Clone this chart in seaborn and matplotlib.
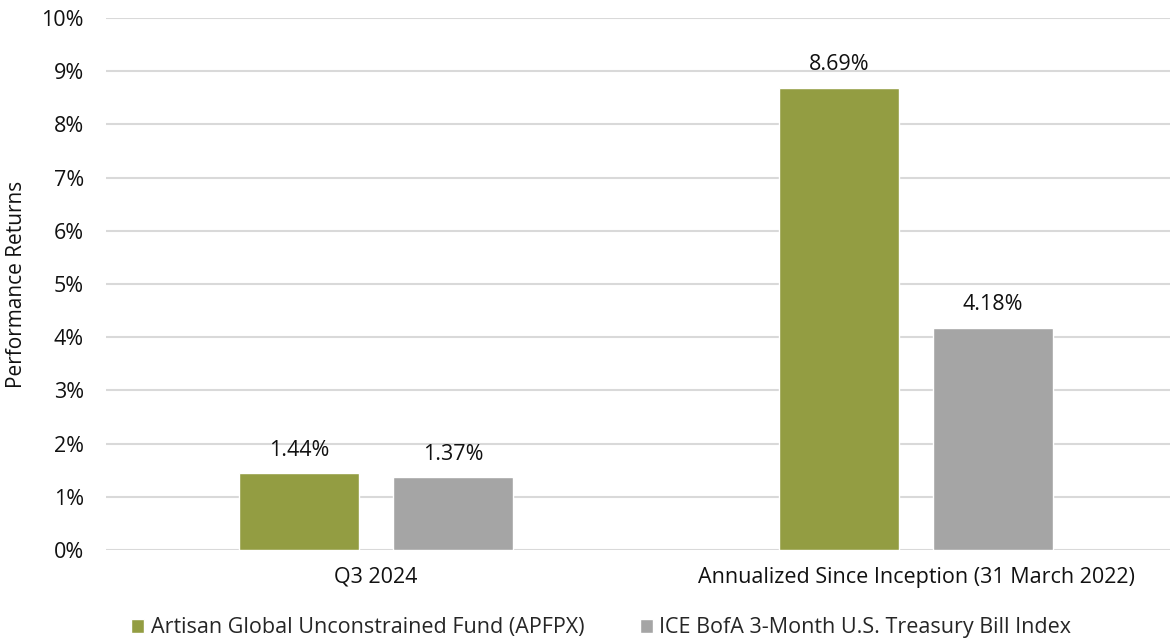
import matplotlib
matplotlib.use("Agg")
import matplotlib.pyplot as plt
import seaborn as sns
import pandas as pd
from matplotlib.patches import Patch

categories = ["Q3 2024", "Annualized Since Inception (31 March 2022)"]
series_names = ["Artisan Global Unconstrained Fund (APFPX)", "ICE BofA 3-Month U.S. Treasury Bill Index"]
fund_values = [1.44, 8.69]
index_values = [1.37, 4.18]
colors = ["#939D42", "#A5A5A5"]
yticks = [0, 1, 2, 3, 4, 5, 6, 7, 8, 9, 10]

rows = []
for c, f, i in zip(categories, fund_values, index_values):
    rows.append({"cat": c, "series": series_names[0], "val": f})
    rows.append({"cat": c, "series": series_names[1], "val": i})
df = pd.DataFrame(rows)

sns.set_style("white")
plt.rcParams['font.family'] = ['Open Sans', 'DejaVu Sans']
FS = 15.5

fig = plt.figure(figsize=(11.7, 6.44), dpi=100)
ax = fig.add_axes([106/1170, 1 - 550/644, 1 - 106/1170, (550 - 18)/644])

sns.barplot(data=df, x="cat", y="val", hue="series", order=categories,
            hue_order=series_names, palette=colors, width=0.57, gap=0.22,
            saturation=1, ax=ax, legend=False, zorder=3)

for cont in ax.containers:
    ax.bar_label(cont, labels=[f"{v:.2f}%" for v in cont.datavalues],
                 padding=9, fontsize=FS, color="#111111")

ax.set_ylim(0, 10)
ax.set_xlim(-0.5, 1.47)
ax.set_yticks(yticks)
ax.set_yticklabels([f"{t}%" for t in yticks], fontsize=FS, color="#111111")
ax.tick_params(axis="x", labelsize=FS, colors="#111111", length=0, pad=12)
ax.tick_params(axis="y", length=0, pad=16)
ax.yaxis.grid(True, color="#D9D9D9", linewidth=1.5, zorder=0)
ax.set_axisbelow(True)
for s in ax.spines.values():
    s.set_visible(False)
ax.set_xlabel("")
ax.set_ylabel("Performance Returns", fontsize=15, color="#111111")
ax.yaxis.set_label_coords(-0.074, 0.5)

handles = [Patch(facecolor=colors[0], label=series_names[0]),
           Patch(facecolor=colors[1], label=series_names[1])]
fig.legend(handles=handles, loc="center", bbox_to_anchor=(0.514, 1 - 628/644),
           ncol=2, frameon=False, fontsize=FS, handlelength=0.6, handleheight=0.6,
           handletextpad=0.3, columnspacing=2.6)

fig.savefig("out.png", dpi=100)
